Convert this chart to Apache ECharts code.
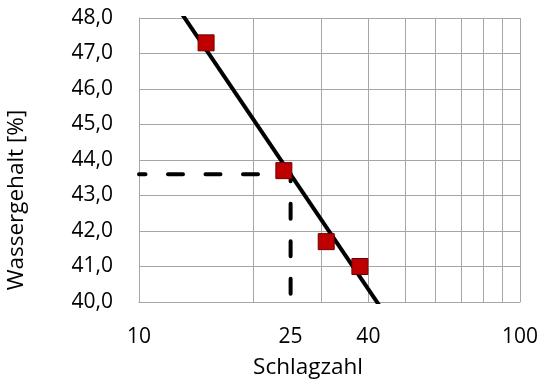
<!DOCTYPE html>
<html><head><meta charset="utf-8">
<script src="https://cdn.jsdelivr.net/npm/echarts@6/dist/echarts.min.js"></script>
<style>html,body{margin:0;padding:0;background:#fff}#c{width:541px;height:383px}</style>
</head><body><div id="c"></div>
<script>
// measured points
const schlagzahl = [15, 24, 31, 38];
const wassergehalt = [47.3, 43.7, 41.7, 41.0];
// trend line (straight in semi-log space), read endpoints
const trendX = [10, 100];
const trendY = [49.9, 34.05];
// read-off value at 25 blows
const readX = 25;
const readY = 43.6;
const xMin = 10, xMax = 100;
const xGridValues = [10, 20, 30, 40, 50, 60, 70, 80, 90, 100];
const xLabelValues = [10, 25, 40, 100];
const yMin = 40, yMax = 48, yStep = 1;
const xTitle = 'Schlagzahl';
const yTitle = 'Wassergehalt [%]';

const FONT = 'Open Sans';
const chart = echarts.init(document.getElementById('c'), null, {renderer: 'canvas'});
const gridCol = '#a6a6a6';
chart.setOption({
  animation: false,
  backgroundColor: '#fff',
  grid: {left: 139, right: 19, top: 18, bottom: 81, containLabel: false},
  xAxis: {
    type: 'log', logBase: 10, min: xMin, max: xMax,
    axisLine: {show: true, lineStyle: {color: gridCol, width: 1}},
    axisTick: {show: false, customValues: xGridValues},
    splitLine: {show: true, lineStyle: {color: gridCol, width: 1}},
    axisLabel: {customValues: xLabelValues, margin: 25, fontFamily: FONT, fontSize: 21, color: '#000',
      formatter: v => String(Math.round(v))}
  },
  yAxis: {
    type: 'value', min: yMin, max: yMax, interval: yStep,
    axisLine: {show: true, lineStyle: {color: gridCol, width: 1}},
    axisTick: {show: false},
    splitLine: {show: true, lineStyle: {color: gridCol, width: 1}},
    axisLabel: {margin: 26, fontFamily: FONT, fontSize: 21, color: '#000',
      formatter: v => v.toFixed(1).replace('.', ',')}
  },
  graphic: [
    {type: 'text', x: 308, y: 368, style: {text: xTitle, font: '22.5px "Open Sans"', fill: '#000', align: 'center', verticalAlign: 'middle'}},
    {type: 'text', x: 17, y: 200, rotation: Math.PI / 2, style: {text: yTitle, font: '22.5px "Open Sans"', fill: '#000', align: 'center', verticalAlign: 'middle'}}
  ],
  series: [
    {type: 'line', data: [[xMin, readY], [readX, readY]], symbol: 'none', clip: true, z: 2,
      lineStyle: {color: '#000', width: 4, type: [15, 22.5], dashOffset: 8.5, cap: 'round'}},
    {type: 'line', data: [[readX, readY], [readX, yMin]], symbol: 'none', clip: true, z: 2,
      lineStyle: {color: '#000', width: 4, type: [15, 22.5], dashOffset: 8, cap: 'round'}},
    {type: 'line', data: trendX.map((x, i) => [x, trendY[i]]), symbol: 'none', clip: true, z: 3,
      lineStyle: {color: '#000', width: 4}},
    {type: 'scatter', data: schlagzahl.map((x, i) => [x, wassergehalt[i]]), symbol: 'rect', symbolSize: 16, z: 4,
      itemStyle: {color: '#c00000', borderColor: '#6b0000', borderWidth: 1, opacity: 1}}
  ]
});
</script></body></html>
